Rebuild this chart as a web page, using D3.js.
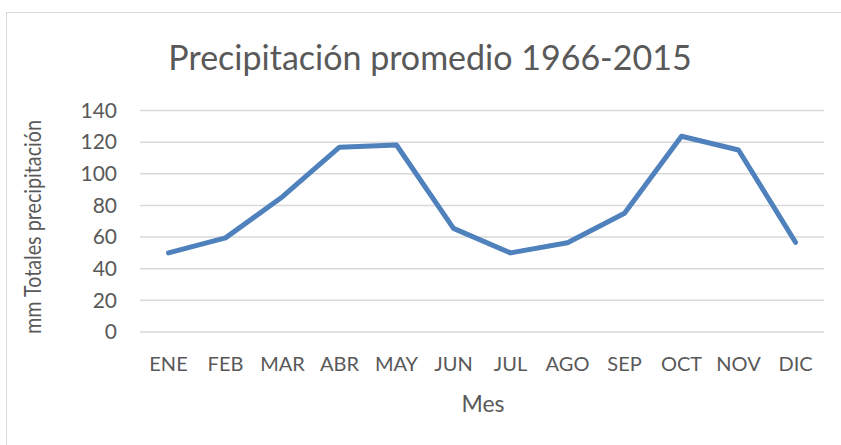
<!doctype html>
<meta charset='utf-8'>
<style>
  body { margin: 0; background: #fff; }
  text { font-family: Lato, 'Open Sans', sans-serif; fill: #595959; }
</style>
<body>
<script src='https://cdn.jsdelivr.net/npm/d3@7'></script>
<script>

var meses = ['ENE','FEB','MAR','ABR','MAY','JUN','JUL','AGO','SEP','OCT','NOV','DIC'];
var precip = [50, 59.5, 85.5, 116.8, 118.2, 65.5, 50, 56.4, 75, 123.7, 115, 56.7];
var yTicks = [0, 20, 40, 60, 80, 100, 120, 140];

var width = 841,
    height = 445;
var margin = {top: 110.5, right: 17, bottom: 113, left: 140};

var svg = d3.select('body').append('svg')
    .attr('width', width)
    .attr('height', height);

// chart area border
svg.append('rect')
    .attr('x', 6.5).attr('y', 12.5)
    .attr('width', width).attr('height', height)
    .attr('fill', 'none')
    .attr('stroke', '#d9d9d9')
    .attr('stroke-width', 1);

var x = d3.scaleBand()
    .domain(meses)
    .range([margin.left, width - margin.right]);

var y = d3.scaleLinear()
    .domain([0, 140])
    .range([height - margin.bottom, margin.top]);

// gridlines
svg.append('g')
  .selectAll('line')
  .data(yTicks)
  .enter().append('line')
    .attr('x1', margin.left)
    .attr('x2', width - margin.right)
    .attr('y1', d => y(d))
    .attr('y2', d => y(d))
    .attr('stroke', '#d9d9d9')
    .attr('stroke-width', 1.5);

// y axis labels
var yAxis = svg.append('g')
    .attr('transform', 'translate(' + margin.left + ',0)')
    .call(d3.axisLeft(y).tickValues(yTicks).tickSize(0).tickPadding(23));
yAxis.select('.domain').remove();
yAxis.selectAll('text')
    .attr('fill', '#595959')
    .style('font-size', '21px')
    .style('font-family', 'Lato, sans-serif');

// x axis labels
var xAxis = svg.append('g')
    .attr('transform', 'translate(0,' + (height - margin.bottom) + ')')
    .call(d3.axisBottom(x).tickSize(0).tickPadding(25));
xAxis.select('.domain').remove();
xAxis.selectAll('text')
    .attr('fill', '#595959')
    .style('font-size', '20px')
    .style('font-family', 'Lato, sans-serif');

var line = d3.line()
    .x((d, i) => x(meses[i]) + x.bandwidth() / 2)
    .y(d => y(d));

svg.append('path')
    .datum(precip)
    .attr('d', line)
    .attr('fill', 'none')
    .attr('stroke', '#4f81bd')
    .attr('stroke-width', 5)
    .attr('stroke-linejoin', 'round')
    .attr('stroke-linecap', 'round');

// title
svg.append('text')
    .attr('x', 430)
    .attr('y', 70)
    .attr('text-anchor', 'middle')
    .style('font-size', '34px')
    .text('Precipitación promedio 1966-2015');

// axis titles
svg.append('text')
    .attr('x', 483)
    .attr('y', 412)
    .attr('text-anchor', 'middle')
    .style('font-size', '23px')
    .text('Mes');

svg.append('text')
    .attr('transform', 'translate(41,' + 227 + ') rotate(-90)')
    .attr('text-anchor', 'middle')
    .attr('textLength', 214)
    .attr('lengthAdjust', 'spacingAndGlyphs')
    .style('font-size', '23px')
    .text('mm Totales precipitación');

</script>
</body>
